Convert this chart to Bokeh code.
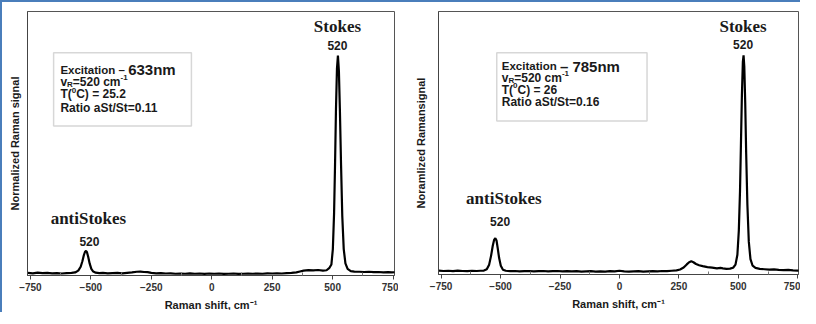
from bokeh.plotting import figure
from bokeh.models import Label, BoxAnnotation, Range1d, FixedTicker
from bokeh.layouts import row
from bokeh.embed import file_html
from bokeh.resources import INLINE

# ---------------- data ----------------
shift_633 = [-760, -740, -720, -700, -680, -660, -640, -620, -600, -580, -565, -552, -542, -535, -529,
             -524, -520, -516, -511, -505, -498, -490, -480, -465, -450, -430, -410, -390, -370, -350,
             -330, -310, -295, -280, -265, -250, -230, -210, -190, -170, -150, -130, -110, -90, -70,
             -50, -30, -10, 10, 30, 50, 70, 90, 110, 130, 150, 170, 190, 210, 230, 250, 270, 290, 310,
             330, 350, 365, 380, 400, 420, 440, 460, 475, 487, 495, 501, 506, 510, 514, 518, 522, 526,
             530, 535, 540, 546, 553, 562, 575, 590, 610, 630, 650, 670, 690, 710, 730, 745, 760]
signal_633 = [0.012, 0.010, 0.013, 0.011, 0.012, 0.010, 0.011, 0.009, 0.011, 0.012, 0.014, 0.022, 0.040, 0.065, 0.092,
              0.108, 0.112, 0.106, 0.085, 0.055, 0.030, 0.018, 0.013, 0.011, 0.012, 0.010, 0.011, 0.012, 0.010, 0.012,
              0.014, 0.017, 0.018, 0.016, 0.015, 0.012, 0.010, 0.011, 0.009, 0.010, 0.008, 0.009, 0.008, 0.010, 0.008,
              0.009, 0.007, 0.009, 0.008, 0.009, 0.007, 0.008, 0.009, 0.007, 0.008, 0.009, 0.008, 0.009, 0.008, 0.010,
              0.009, 0.010, 0.009, 0.011, 0.012, 0.014, 0.018, 0.022, 0.024, 0.023, 0.025, 0.022, 0.024, 0.035, 0.05,
              0.12, 0.28, 0.50, 0.76, 0.94, 1.0, 0.93, 0.76, 0.50, 0.27, 0.12, 0.055, 0.03, 0.02, 0.018, 0.017, 0.016,
              0.017, 0.015, 0.016, 0.014, 0.015, 0.014, 0.015]

shift_785 = [-760, -740, -720, -700, -680, -660, -640, -620, -600, -585, -570, -558, -548, -540, -533, -527,
             -522, -517, -512, -506, -499, -490, -478, -460, -440, -420, -400, -380, -360, -340, -320, -300,
             -280, -260, -240, -220, -200, -180, -160, -140, -120, -100, -80, -60, -40, -20, 0, 20, 40, 60,
             80, 100, 120, 140, 160, 180, 200, 220, 240, 255, 270, 283, 293, 302, 311, 322, 335, 350, 370,
             390, 410, 425, 435, 450, 465, 478, 488, 496, 502, 507, 511, 515, 519, 522, 525, 529, 533, 538,
             544, 551, 560, 572, 590, 610, 630, 650, 670, 690, 710, 730, 750, 760]
signal_785 = [0.018, 0.016, 0.017, 0.015, 0.018, 0.016, 0.015, 0.017, 0.016, 0.017, 0.018, 0.024, 0.045, 0.085, 0.13, 0.158,
              0.166, 0.155, 0.12, 0.075, 0.04, 0.022, 0.017, 0.015, 0.016, 0.014, 0.015, 0.016, 0.014, 0.015, 0.016, 0.014,
              0.015, 0.016, 0.014, 0.015, 0.014, 0.015, 0.013, 0.014, 0.015, 0.013, 0.014, 0.013, 0.015, 0.014, 0.017, 0.014,
              0.013, 0.014, 0.015, 0.013, 0.014, 0.015, 0.014, 0.016, 0.015, 0.017, 0.019, 0.023, 0.032, 0.046, 0.056, 0.060,
              0.056, 0.048, 0.042, 0.038, 0.034, 0.031, 0.028, 0.030, 0.028, 0.026, 0.027, 0.031, 0.045, 0.09, 0.2, 0.38, 0.6,
              0.82, 0.97, 1.0, 0.95, 0.78, 0.55, 0.32, 0.15, 0.07, 0.04, 0.03, 0.026, 0.024, 0.022, 0.023, 0.021, 0.020,
              0.021, 0.019, 0.018, 0.017]

x_ticks = [-750, -500, -250, 0, 250, 500, 750]
x_minor_ticks = [-625, -375, -125, 125, 375, 625]
peak_shift = 520
peak_label = "520"

SANS = "Liberation Sans"
SERIF = "Liberation Serif"
TXT = "#1a1a1a"
BLUE = "#4a7ebb"

# approximate advance widths of Liberation Sans Bold (em)
W = {" ": .278, "(": .333, ")": .333, "-": .333, ".": .278, "/": .278, "=": .584, "\u2013": .556,
     "C": .722, "E": .667, "R": .722, "S": .667, "T": .611, "a": .556, "c": .556, "e": .556,
     "i": .278, "m": .889, "n": .611, "o": .611, "t": .333, "x": .556, "v": .556}


def text_width(s, size):
    return sum(W.get(ch, .556) for ch in s) * size


def runs(p, x, y, parts):
    off = 0.0
    for txt, size, dy in parts:
        p.add_layout(Label(x=x, y=y, x_offset=off, y_offset=dy, text=txt, text_font=SANS,
                           text_font_size=f"{size}px", text_font_style="bold", text_color=TXT,
                           text_baseline="middle", text_align="left"))
        off += text_width(txt, size)


def make_fig(shift, signal, xr, fw, fh, mb_left, mb_right, mb_top, mb_bottom, ylabel, ylabel_standoff):
    p = figure(frame_width=fw, frame_height=fh, output_backend="svg", toolbar_location=None,
               x_range=Range1d(*xr), y_range=Range1d(0, 1.2),
               min_border_left=mb_left, min_border_right=mb_right,
               min_border_top=mb_top, min_border_bottom=mb_bottom)
    p.line(shift, signal, line_color="black", line_width=2.2)
    p.grid.visible = False
    p.outline_line_color = "#555555"
    p.outline_line_width = 1
    p.background_fill_color = "white"
    p.border_fill_alpha = 0

    xa = p.xaxis[0]
    xa.ticker = FixedTicker(ticks=x_ticks, minor_ticks=x_minor_ticks)
    xa.axis_line_color = "#444444"
    xa.major_tick_line_color = "#444444"
    xa.minor_tick_line_color = "#777777"
    xa.major_tick_out = 4
    xa.major_tick_in = 0
    xa.minor_tick_in = 3
    xa.minor_tick_out = 0
    xa.major_label_text_font = SANS
    xa.major_label_text_font_style = "bold"
    xa.major_label_text_font_size = "10px"
    xa.major_label_text_color = "#333333"
    xa.major_label_standoff = 3
    xa.axis_label = "Raman shift, cm\u207b\u00b9"
    xa.axis_label_text_font = SANS
    xa.axis_label_text_font_style = "bold"
    xa.axis_label_text_font_size = "11px"
    xa.axis_label_text_color = TXT
    xa.axis_label_standoff = 5

    ya = p.yaxis[0]
    ya.ticker = FixedTicker(ticks=[])
    ya.major_tick_line_color = None
    ya.minor_tick_line_color = None
    ya.major_label_standoff = 0
    ya.axis_line_color = "#444444"
    ya.axis_label = ylabel
    ya.axis_label_text_font = SANS
    ya.axis_label_text_font_style = "bold"
    ya.axis_label_text_font_size = "11px"
    ya.axis_label_text_color = TXT
    ya.axis_label_standoff = ylabel_standoff
    return p


def serif_label(p, x, y, text, size=17):
    p.add_layout(Label(x=x, y=y, text=text, text_font=SERIF, text_font_style="bold",
                       text_font_size=f"{size}px", text_color=TXT, text_align="center",
                       text_baseline="middle"))


def num_label(p, x, y, text):
    p.add_layout(Label(x=x, y=y, text=text, text_font=SANS, text_font_style="bold",
                       text_font_size="12px", text_color=TXT, text_align="center",
                       text_baseline="middle"))


F = 12
FE = 11.5

# ---------------- left chart: 633 nm ----------------
p1 = make_fig(shift_633, signal_633, (-762, 756), 367, 264, 25, 4, 6, 37,
              "Normalized Raman signal", 7)
serif_label(p1, peak_shift, 1.13, "Stokes")
num_label(p1, peak_shift, 1.045, peak_label)
serif_label(p1, -510, 0.26, "antiStokes")
num_label(p1, -506, 0.155, peak_label)
p1.add_layout(BoxAnnotation(left=-654, right=-84, bottom=0.68, top=1.013, fill_color="white",
                            fill_alpha=1, line_color="#7a7a7a", line_width=1.5))
tx = -626
runs(p1, tx, 0.935, [("Excitation \u2013 ", FE, 0), ("633nm", 15, 0)])
runs(p1, tx, 0.88, [("v", F, 0), ("R", 8, -3), ("=520 cm", F, 0), ("-1", 8, 4)])
runs(p1, tx, 0.823, [("T(", F, 0), ("0", 8, 4), ("C) = 25.2", F, 0)])
runs(p1, tx, 0.762, [("Ratio aSt/St=0.11", F, 0)])

# ---------------- right chart: 785 nm ----------------
p2 = make_fig(shift_785, signal_785, (-761, 753), 360, 263, 40, 2, 9, 35,
              "Noramlized Ramansignal", 12)
serif_label(p2, peak_shift, 1.13, "Stokes")
num_label(p2, peak_shift, 1.05, peak_label)
serif_label(p2, -486, 0.348, "antiStokes")
num_label(p2, -502, 0.243, peak_label)
p2.add_layout(BoxAnnotation(left=-516, right=116, bottom=0.7, top=1.012, fill_color="white",
                            fill_alpha=1, line_color="#7a7a7a", line_width=1.5))
tx2 = -495
runs(p2, tx2, 0.95, [("Excitation ", FE, 0), ("\u2013 785nm", 15, 0)])
runs(p2, tx2, 0.897, [("v", F, 0), ("R", 8, -3), ("=520 cm", F, 0), ("-1", 8, 4)])
runs(p2, tx2, 0.842, [("T(", F, 0), ("0", 8, 4), ("C) = 26", F, 0)])
runs(p2, tx2, 0.785, [("Ratio aSt/St=0.16", F, 0)])

layout = row(p1, p2, styles={"border-left": f"2px solid {BLUE}", "border-top": f"2px solid {BLUE}"})

open("out.html", "w").write(file_html(layout, INLINE))
